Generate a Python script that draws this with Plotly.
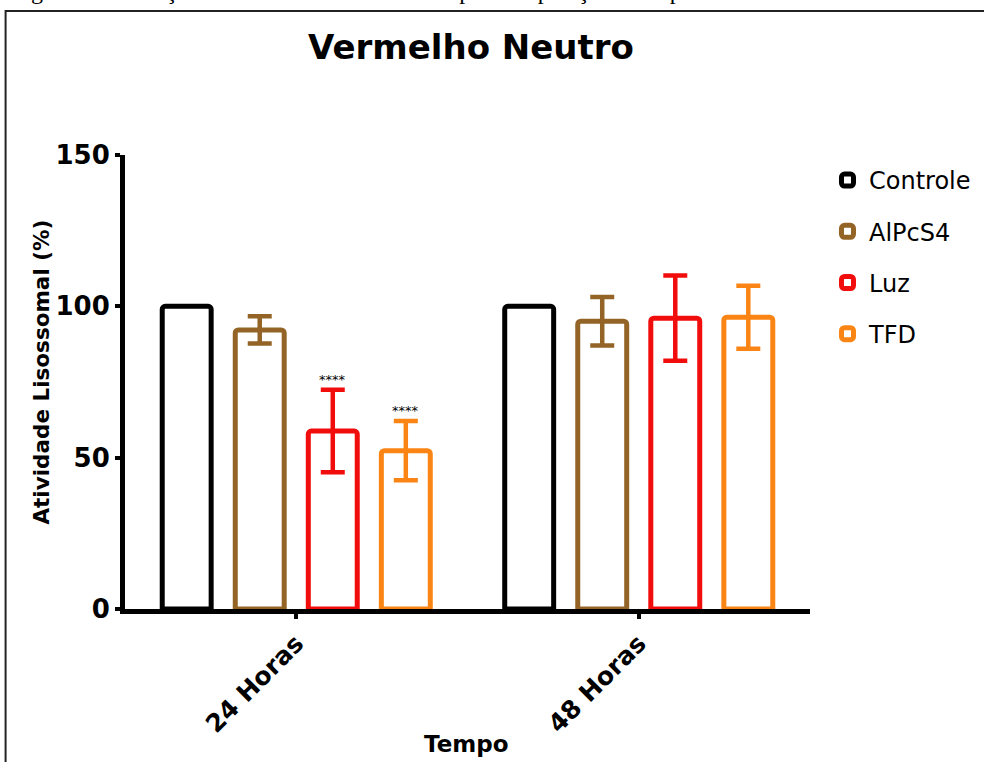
import plotly.graph_objects as go

categories = ["24 Horas", "48 Horas"]
series_names = ["Controle", "AlPcS4", "Luz", "TFD"]
series_values = {
    "Controle": [100, 100],
    "AlPcS4": [92.2, 95.1],
    "Luz": [58.8, 96.1],
    "TFD": [52.3, 96.4],
}
series_errors = {
    "Controle": [0, 0],
    "AlPcS4": [4.5, 8.0],
    "Luz": [13.6, 14.1],
    "TFD": [9.8, 10.4],
}
colors = {"Controle": "#000000", "AlPcS4": "#936426", "Luz": "#F20D0D", "TFD": "#FA8514"}
significance = [("Luz", 0, 75.8), ("TFD", 0, 65.6)]
y_ticks = [0, 50, 100, 150]

FONT = "DejaVu Sans, Arial, sans-serif"

# pixel geometry helpers (page pixels)
L, R, T, B = 124.5, 810, 155, 609
PW, PH = R - L, B - T


def px(xp):
    return (xp - L) / PW


def py(yp):
    return (B - yp) / PH


fig = go.Figure()
for name in series_names:
    fig.add_trace(go.Bar(
        name=name,
        x=[0, 1],
        y=series_values[name],
        marker=dict(color="white", line=dict(color=colors[name], width=5), cornerradius=3),
        error_y=dict(type="data", array=series_errors[name], visible=any(series_errors[name]),
                     color=colors[name], thickness=4.5, width=12),
        legendgroup=name,
    ))

# significance stars
slot = (1 - 0.147) / 4
for name, cat, yv in significance:
    idx = series_names.index(name)
    fig.add_annotation(x=cat + (idx - 1.5) * slot, y=yv, xref="x", yref="y",
                       text="****", showarrow=False, yanchor="middle",
                       font=dict(family=FONT, size=13, color="black"))

# axis titles as annotations
fig.add_annotation(x=px(466), y=py(744), xref="paper", yref="paper", text="Tempo",
                   xanchor="center", yanchor="middle", showarrow=False,
                   font=dict(family=FONT, size=23, color="black", weight="bold"))
fig.add_annotation(x=px(40), y=py(372), xref="paper", yref="paper", text="Atividade Lisossomal (%)",
                   xanchor="center", yanchor="middle", textangle=-90, showarrow=False,
                   font=dict(family=FONT, size=21.5, color="black", weight="bold"))
# chart title
fig.add_annotation(x=px(471), y=py(47), xref="paper", yref="paper",
                   xanchor="center", yanchor="middle",
                   text="Vermelho Neutro", showarrow=False,
                   font=dict(family=FONT, size=34, color="black", weight="bold"))
# clipped caption at top of page (as in the reference)
fig.add_annotation(x=px(8), y=py(6), xref="paper", yref="paper",
                   xanchor="left", yanchor="bottom",
                   text="Figura 5 – Variação da Atividade Lisossomal após a exposição a terapia fotodinâmica",
                   showarrow=False, font=dict(family="Liberation Serif, serif", size=24, color="black"))

# border box
fig.add_shape(type="rect", xref="paper", yref="paper",
              x0=px(5), x1=px(995), y0=py(790), y1=py(11),
              line=dict(color="#222222", width=2))

fig.update_layout(
    width=984, height=762,
    margin=dict(l=L, r=984 - R, t=T, b=762 - B, autoexpand=False),
    paper_bgcolor="white", plot_bgcolor="white",
    barmode="group", bargap=0.147, bargroupgap=0.33,
    showlegend=True,
    legend=dict(x=px(826), y=py(158), xanchor="left", yanchor="top",
                font=dict(family=FONT, size=24, color="black"), tracegroupgap=17,
                itemwidth=33, bgcolor="rgba(0,0,0,0)"),
    font=dict(family=FONT, color="black"),
)
fig.update_xaxes(
    range=[-0.5, 1.5], tickmode="array", tickvals=[0, 1], ticktext=categories,
    tickangle=-45, tickfont=dict(family=FONT, size=25, color="black", weight="bold"),
    showline=True, linecolor="black", linewidth=5, ticks="outside", ticklen=5, tickwidth=4,
    tickcolor="black", showgrid=False, zeroline=False,
)
fig.update_yaxes(
    range=[0, 150], tickmode="array", tickvals=y_ticks,
    tickfont=dict(family=FONT, size=26, color="black", weight="bold"),
    showline=True, linecolor="black", linewidth=5, ticks="outside", ticklen=5, tickwidth=4,
    tickcolor="black", showgrid=False, zeroline=False,
)

fig.write_html("out.html", config={"displayModeBar": False},
               post_script="document.body.style.margin='0';")
